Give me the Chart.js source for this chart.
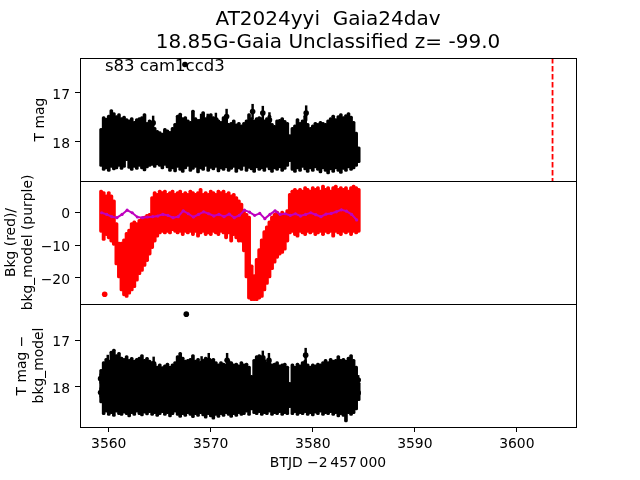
<!DOCTYPE html>
<html>
<head>
<meta charset="utf-8">
<title>AT2024yyi Gaia24dav</title>
<script src="https://cdn.jsdelivr.net/npm/chart.js@4.4.1/dist/chart.umd.min.js"></script>
<style>
  html, body { margin: 0; padding: 0; background: #fff; }
  canvas { display: block; }
</style>
</head>
<body>
<canvas id="lc" width="640" height="480"></canvas>
<script>
const titleLines = ["AT2024yyi  Gaia24dav", "18.85G-Gaia Unclassified z= -99.0"];
const sectorLabel = "s83 cam1ccd3";
const xLabel = "BTJD \u22122\u2009457\u2009000";
const yLabel1 = ["T mag"];
const yLabel2 = ["Bkg (red)/", "bkg_model (purple)"];
const yLabel3 = ["T mag \u2212", "bkg_model"];

const xTicks = [3560, 3570, 3580, 3590, 3600];
const yTicks1 = [17, 18];
const yTicks2 = [0, -10, -20];
const yTicks3 = [17, 18];

const xRange = [3557.18, 3605.8];
const yRange1 = [16.286, 18.796];
const yRange2 = [-28, 9.75];
const yRange3 = [16.2, 18.87];

const discoveryTime = 3603.5;

// light curve binned into 0.25 d slices: top and bottom of the cloud in each slice
const binTimes = [
  3559.25, 3559.5, 3559.75, 3560, 3560.25, 3560.5, 3560.75, 3561, 3561.25, 3561.5,
  3561.75, 3562, 3562.25, 3562.5, 3562.75, 3563, 3563.25, 3563.5, 3563.75, 3564,
  3564.25, 3564.5, 3564.75, 3565, 3565.25, 3565.5, 3565.75, 3566, 3566.25, 3566.5,
  3566.75, 3567, 3567.25, 3567.5, 3567.75, 3568, 3568.25, 3568.5, 3568.75, 3569,
  3569.25, 3569.5, 3569.75, 3570, 3570.25, 3570.5, 3570.75, 3571, 3571.25, 3571.5,
  3571.75, 3572, 3572.25, 3572.5, 3572.75, 3573, 3573.25, 3573.5, 3573.75, 3574,
  3574.25, 3574.5, 3574.75, 3575, 3575.25, 3575.5, 3575.75, 3576, 3576.25, 3576.5,
  3576.75, 3577, 3577.25, 3577.5, 3577.75, 3578, 3578.25, 3578.5, 3578.75, 3579,
  3579.25, 3579.5, 3579.75, 3580, 3580.25, 3580.5, 3580.75, 3581, 3581.25, 3581.5,
  3581.75, 3582, 3582.25, 3582.5, 3582.75, 3583, 3583.25, 3583.5, 3583.75, 3584,
  3584.25, 3584.5
];

const magTop = [
  17.72, 17.48, 17.51, 17.45, 17.34, 17.40, 17.46, 17.42, 17.50, 17.47,
  17.52, 17.55, 17.50, 17.58, 17.52, 17.50, 17.48, 17.42, 17.60, 17.55,
  17.60, 17.70, 17.76, 17.79, 17.82, 17.72, 17.75, 17.78, 17.70, 17.62,
  17.45, 17.41, 17.50, 17.48, 17.55, 17.58, 17.35, 17.50, 17.54, 17.56,
  17.38, 17.50, 17.46, 17.42, 17.48, 17.50, 17.55, 17.58, 17.48, 17.50,
  17.62, 17.60, 17.55, 17.63, 17.60, 17.65, 17.60, 17.55, 17.42, 17.50,
  17.55, 17.50, 17.48, 17.50, 17.55, 17.50, 17.45, 17.62, 17.66, 17.55,
  17.54, 17.50, 17.56, 17.60, 17.85, 17.70, 17.65, 17.52, 17.60, 17.55,
  17.45, 17.62, 17.70, 17.65, 17.60, 17.62, 17.58, 17.60, 17.62, 17.55,
  17.50, 17.45, 17.52, 17.46, 17.42, 17.48, 17.44, 17.40, 17.47, 17.58,
  17.80, 18.10
];
const magBottom = [
  18.50, 18.58, 18.55, 18.60, 18.52, 18.57, 18.55, 18.50, 18.56, 18.52,
  18.38, 18.54, 18.58, 18.52, 18.56, 18.50, 18.55, 18.59, 18.53, 18.50,
  18.48, 18.52, 18.47, 18.50, 18.55, 18.48, 18.53, 18.60, 18.55, 18.61,
  18.52, 18.58, 18.62, 18.55, 18.50, 18.60, 18.56, 18.52, 18.63, 18.55,
  18.58, 18.50, 18.60, 18.54, 18.57, 18.52, 18.61, 18.55, 18.58, 18.53,
  18.60, 18.56, 18.52, 18.62, 18.55, 18.58, 18.50, 18.60, 18.54, 18.57,
  18.62, 18.53, 18.58, 18.55, 18.60, 18.52, 18.57, 18.62, 18.55, 18.58,
  18.53, 18.60, 18.56, 18.50, 18.40, 18.58, 18.62, 18.55, 18.60, 18.52,
  18.57, 18.62, 18.55, 18.60, 18.53, 18.58, 18.63, 18.55, 18.60, 18.65,
  18.57, 18.62, 18.55, 18.60, 18.64, 18.56, 18.60, 18.53, 18.58, 18.55,
  18.50, 18.42
];

const bkgLow = [
  -6, -8.5, -7, -8, -9, -10, -16, -20, -24, -25.5,
  -26, -25, -24, -23, -21, -19, -18, -16.5, -15, -13,
  -11, -9, -7.5, -6.5, -6, -6.5, -6, -6.5, -5.5, -6,
  -6.5, -6, -7, -6, -6.5, -6, -7, -6, -7.5, -6.5,
  -6, -7, -6.5, -7, -6, -6.5, -7, -6, -6.5, -8,
  -6.5, -9, -7, -8, -9, -9, -12, -20, -26.5, -27,
  -27, -27, -26.5, -26, -24, -22, -20, -17.5, -15.5, -14,
  -13, -12.5, -11.5, -9, -6.5, -6, -7, -7.5, -6, -6.5,
  -7, -6, -6.5, -6, -7, -6.5, -6, -7, -6, -6.5,
  -6, -7.5, -6, -6.5, -7, -6, -6.5, -6, -7, -6,
  -6.5, -6
];
const bkgHigh = [
  7, 6.5, 5.5, 6.5, 5.5, 4, -3, -9, -9, -8,
  -6, -5, -3, -2.5, -3, -2, -1.5, -1, -0.5, 0,
  5, 6.5, 6, 7, 6.5, 7, 6, 6.5, 7, 6,
  6.5, 7, 6, 6.5, 6, 7, 6.5, 6, 6.5, 7.5,
  6, 6.5, 6, 7, 6.5, 6, 7, 6.5, 7, 6,
  6.5, 5.5, 6, 5, 4, 3, 1, 0, -1, -16,
  -19, -14, -11, -8, -5.5, -4, -2.5, -1, 0, 0.5,
  0, 0.5, 0, 1, 6, 7, 7.5, 7, 7.5, 7,
  8, 7.5, 7, 8, 7.5, 8, 7, 8.5, 7.5, 8,
  7, 8, 8.5, 7.5, 8, 7.5, 8, 7, 8, 8.5,
  8, 7.5
];

const corrTop = [
  17.62, 17.45, 17.38, 17.46, 17.22, 17.18, 17.30, 17.25, 17.35, 17.38,
  17.32, 17.40, 17.36, 17.42, 17.38, 17.35, 17.30, 17.40, 17.36, 17.42,
  17.45, 17.50, 17.55, 17.50, 17.56, 17.52, 17.48, 17.55, 17.50, 17.45,
  17.32, 17.25, 17.35, 17.42, 17.40, 17.38, 17.30, 17.42, 17.38, 17.45,
  17.40, 17.35, 17.42, 17.40, 17.38, 17.45, 17.50, 17.45, 17.48, 17.50,
  17.42, 17.45, 17.50, 17.48, 17.52, 17.45, 17.50, 17.48, 17.55, 17.75,
  17.40, 17.32, 17.30, 17.35, 17.40, 17.45, 17.42, 17.50, 17.48, 17.45,
  17.52, 17.50, 17.48, 17.55, 17.90, 17.50, 17.55, 17.48, 17.52, 17.45,
  17.42, 17.50, 17.55, 17.50, 17.52, 17.48, 17.50, 17.45, 17.40, 17.45,
  17.38, 17.42, 17.40, 17.32, 17.40, 17.38, 17.42, 17.35, 17.30, 17.40,
  17.55, 17.90
];
const corrBottom = [
  18.35, 18.60, 18.55, 18.62, 18.58, 18.64, 18.55, 18.60, 18.62, 18.57,
  18.60, 18.65, 18.58, 18.62, 18.55, 18.60, 18.63, 18.57, 18.61, 18.56,
  18.62, 18.58, 18.64, 18.60, 18.56, 18.62, 18.58, 18.65, 18.60, 18.55,
  18.62, 18.66, 18.60, 18.64, 18.58, 18.62, 18.67, 18.60, 18.64, 18.58,
  18.63, 18.68, 18.60, 18.65, 18.70, 18.62, 18.66, 18.60, 18.64, 18.58,
  18.62, 18.66, 18.60, 18.64, 18.58, 18.62, 18.60, 18.55, 18.62, 18.50,
  18.58, 18.60, 18.56, 18.62, 18.58, 18.60, 18.55, 18.62, 18.58, 18.60,
  18.56, 18.62, 18.58, 18.60, 18.45, 18.60, 18.56, 18.62, 18.58, 18.60,
  18.56, 18.62, 18.58, 18.63, 18.57, 18.60, 18.55, 18.62, 18.58, 18.60,
  18.56, 18.62, 18.58, 18.65, 18.60, 18.64, 18.76, 18.58, 18.62, 18.58,
  18.50, 18.30
];

// single points standing out of the cloud, with their error bars
const magPtTimes = [3564.35, 3569.05, 3569.7, 3570.5, 3571.55, 3574.1, 3575.1, 3575.75, 3579.35, 3567.47];
const magPtValues = [17.61, 17.58, 17.57, 17.55, 17.48, 17.38, 17.41, 17.55, 17.41, 16.42];
const magPtErrors = [0.14, 0.15, 0.14, 0.14, 0.15, 0.15, 0.14, 0.15, 0.15, 0.03];

const corrPtTimes = [3559.2, 3559.2, 3559.9, 3564.4, 3567.6, 3569.1, 3569.8, 3571.6, 3575.1, 3575.7, 3579.3, 3584.45, 3584.45];
const corrPtValues = [17.82, 18.12, 17.46, 17.50, 16.42, 17.49, 17.42, 17.42, 17.37, 17.42, 17.31, 17.85, 18.13];
const corrPtErrors = [0.10, 0.10, 0.15, 0.15, 0.02, 0.15, 0.15, 0.15, 0.15, 0.15, 0.15, 0.10, 0.10];

const bkgPtTimes = [3559.6];
const bkgPtValues = [-25];

const modelTimes = [
  3559.3, 3559.8, 3560.3, 3560.8, 3561.3, 3561.8, 3562.3, 3562.8, 3563.3, 3563.8,
  3564.3, 3564.8, 3565.3, 3565.8, 3566.3, 3566.8, 3567.3, 3567.8, 3568.3, 3568.8,
  3569.3, 3569.8, 3570.3, 3570.8, 3571.3, 3571.8, 3572.3, 3572.8, 3573.3, 3573.8,
  3574.3, 3574.8, 3575.3, 3575.8, 3576.3, 3576.8, 3577.3, 3577.8, 3578.3, 3578.8,
  3579.3, 3579.8, 3580.3, 3580.8, 3581.3, 3581.8, 3582.3, 3582.8, 3583.3, 3583.8,
  3584.3
];
const modelValues = [
  0, -0.5, -1.2, -1.5, -0.5, 0.8, 0, -1.3, -1.5, -1.3,
  -1.2, -1.0, -0.5, -0.8, -1.5, -1.2, 0.6, -0.3, -1.3, -0.5,
  0.3, -0.3, -1.0, -0.5, -1.2, -0.4, -1.5, -0.8, 0.8, 0.2,
  -0.8, -0.2, -1.8, -0.5, 0.6, -0.5, -0.3, -0.8, -0.3, -1.0,
  -0.5, 0.0, -0.6, -1.2, -0.4, -0.2, 0.3, 0.9, 0.5, -0.5,
  -2.2
];

const band = (lo, hi) => binTimes.map((t, i) => ({ x: t, y: [lo[i], hi[i]] }));
const errBars = (t, m, e) => t.map((v, i) => ({ x: v, y: [m[i] - e[i], m[i] + e[i]] }));
const points = (t, m) => t.map((v, i) => ({ x: v, y: m[i] }));

const FONT = "'DejaVu Sans', sans-serif";
Chart.defaults.font.family = FONT;
Chart.defaults.font.size = 13.9;
Chart.defaults.color = "#000";

const yScale = (range, ticks, weight, reverse) => ({
  type: "linear",
  position: "left",
  stack: "panels",
  stackWeight: 1,
  weight: weight,
  reverse: reverse,
  min: range[0],
  max: range[1],
  offset: false,
  grid: { drawOnChartArea: false, tickLength: 5, tickColor: "#000", tickWidth: 1 },
  border: { display: false },
  ticks: {
    padding: 5,
    labelOffset: 2,
    callback: (v) => String(v).replace("-", "\u2212"),
  },
  afterBuildTicks: (s) => {
    s.ticks = ticks.map((v) => ({ value: v }));
  },
  afterFit: (s) => {
    s.width = 80;
  },
});

const figText = {
  id: "figText",
  afterDraw(chart) {
    const { ctx, chartArea } = chart;
    ctx.save();
    ctx.fillStyle = "#000";
    ctx.strokeStyle = "#000";
    ctx.lineWidth = 1;

    // panel frames
    ["y1", "y2", "y3"].forEach((id) => {
      const s = chart.scales[id];
      ctx.strokeRect(chartArea.left + 0.5, Math.round(s.top) + 0.5, chartArea.right - chartArea.left, Math.round(s.bottom - s.top));
    });

    const cx = (chartArea.left + chartArea.right) / 2;
    ctx.textAlign = "center";
    ctx.textBaseline = "middle";
    ctx.font = "20px " + FONT;
    ctx.fillText(titleLines[0], cx, 20);
    ctx.fillText(titleLines[1], cx, 43);

    ctx.textAlign = "left";
    ctx.textBaseline = "alphabetic";
    ctx.font = "16.5px " + FONT;
    ctx.fillText(sectorLabel, 105, 71);

    ctx.font = "13.9px " + FONT;
    ctx.textAlign = "center";
    ctx.textBaseline = "middle";
    const labels = [
      ["y1", yLabel1, [40]],
      ["y2", yLabel2, [11.5, 28]],
      ["y3", yLabel3, [22.5, 39.5]],
    ];
    labels.forEach(([id, lines, xs]) => {
      const s = chart.scales[id];
      const cy = (s.top + s.bottom) / 2;
      lines.forEach((line, i) => {
        ctx.save();
        ctx.translate(xs[i], cy);
        ctx.rotate(-Math.PI / 2);
        ctx.fillText(line, 0, 0);
        ctx.restore();
      });
    });
    ctx.restore();
  },
};

const barStyle = { type: "bar", grouped: false, borderWidth: 0, borderSkipped: false };

new Chart(document.getElementById("lc"), {
  type: "scatter",
  data: {
    datasets: [
      {
        type: "line",
        label: "bkg_model",
        data: points(modelTimes, modelValues),
        yAxisID: "y2",
        borderColor: "#bf00bf",
        backgroundColor: "#bf00bf",
        borderWidth: 2,
        pointRadius: 1.6,
        pointBorderWidth: 0,
        order: 0,
      },
      {
        type: "line",
        label: "discovery",
        data: [{ x: discoveryTime, y: yRange1[0] }, { x: discoveryTime, y: yRange1[1] }],
        yAxisID: "y1",
        borderColor: "#ff0000",
        borderWidth: 1.8,
        borderDash: [5.5, 2.5],
        pointRadius: 0,
        order: 1,
      },
      {
        label: "T mag points",
        data: points(magPtTimes, magPtValues),
        yAxisID: "y1",
        backgroundColor: "#000",
        pointRadius: 2.8,
        pointBorderWidth: 0,
        order: 2,
      },
      Object.assign({}, barStyle, {
        label: "T mag errors",
        data: errBars(magPtTimes, magPtValues, magPtErrors),
        yAxisID: "y1",
        backgroundColor: "#000",
        barThickness: 1.8,
        order: 3,
      }),
      Object.assign({}, barStyle, {
        label: "T mag",
        data: band(magTop, magBottom),
        yAxisID: "y1",
        backgroundColor: "#000",
        barThickness: 3,
        borderRadius: 1.5,
        order: 4,
      }),
      {
        label: "Bkg points",
        data: points(bkgPtTimes, bkgPtValues),
        yAxisID: "y2",
        backgroundColor: "#ff0000",
        pointRadius: 2.8,
        pointBorderWidth: 0,
        order: 5,
      },
      Object.assign({}, barStyle, {
        label: "Bkg",
        data: band(bkgLow, bkgHigh),
        yAxisID: "y2",
        backgroundColor: "#ff0000",
        barThickness: 3.2,
        borderRadius: 1.6,
        order: 6,
      }),
      {
        label: "T mag - bkg_model points",
        data: points(corrPtTimes, corrPtValues),
        yAxisID: "y3",
        backgroundColor: "#000",
        pointRadius: 2.8,
        pointBorderWidth: 0,
        order: 7,
      },
      Object.assign({}, barStyle, {
        label: "T mag - bkg_model errors",
        data: errBars(corrPtTimes, corrPtValues, corrPtErrors),
        yAxisID: "y3",
        backgroundColor: "#000",
        barThickness: 1.8,
        order: 8,
      }),
      Object.assign({}, barStyle, {
        label: "T mag - bkg_model",
        data: band(corrTop, corrBottom),
        yAxisID: "y3",
        backgroundColor: "#000",
        barThickness: 3,
        borderRadius: 1.5,
        order: 9,
      }),
    ],
  },
  options: {
    responsive: false,
    animation: false,
    devicePixelRatio: 1,
    layout: { padding: { top: 58, right: 64, bottom: 0, left: 0 } },
    plugins: {
      legend: { display: false },
      tooltip: { enabled: false },
      title: { display: false },
    },
    scales: {
      x: {
        type: "linear",
        position: "bottom",
        min: xRange[0],
        max: xRange[1],
        offset: false,
        grid: { drawOnChartArea: false, offset: false, tickLength: 5, tickColor: "#000", tickWidth: 1 },
        border: { display: false },
        ticks: { padding: 4, maxRotation: 0, callback: (v) => String(v) },
        title: { display: true, text: xLabel, padding: { top: 0, bottom: 8.5 } },
        afterBuildTicks: (s) => {
          s.ticks = xTicks.map((v) => ({ value: v }));
        },
        afterFit: (s) => {
          s.height = 53;
        },
      },
      y1: yScale(yRange1, yTicks1, 3, true),
      y2: yScale(yRange2, yTicks2, 2, false),
      y3: yScale(yRange3, yTicks3, 1, true),
    },
  },
  plugins: [figText],
});
</script>
</body>
</html>
